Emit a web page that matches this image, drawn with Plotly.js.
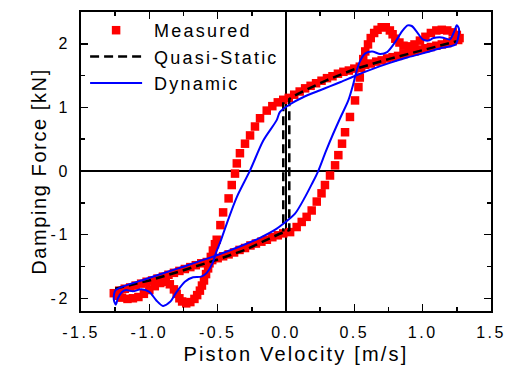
<!DOCTYPE html>
<html>
<head>
<meta charset="utf-8">
<script src="https://cdn.plot.ly/plotly-3.0.1.min.js"></script>
<style>
  html, body { margin: 0; padding: 0; background: #fff; }
  #chart { width: 525px; height: 367px; }
  .xtick text, .ytick text { letter-spacing: 2.5px; }
  text.legendtext { letter-spacing: 2.2px; transform: translate(7px, 0px); }
  text.xtitle { letter-spacing: 2.2px; }
  text.ytitle { letter-spacing: 1.6px; }
  g.g-ytitle { transform: translate(4px, 10px); }
  g.g-xtitle { transform: translate(10px, 0px); }
</style>
</head>
<body>
<div id="chart"></div>
<script>
// ---------------- data ----------------
// Measured (red squares), in loop order
const measV = [
  1.26, 1.22, 1.18, 1.14, 1.10, 1.06, 1.02, 0.98, 0.94, 0.90, 0.86, 0.82, 0.78, 0.74, 0.70, 0.66,
  0.62, 0.58, 0.54, 0.50, 0.46, 0.42, 0.38, 0.34, 0.30, 0.26, 0.22, 0.18, 0.14, 0.10, 0.06, 0.02,
  -0.02, -0.06, -0.10,
  -0.141, -0.19, -0.227, -0.263, -0.30, -0.337, -0.36, -0.373, -0.397, -0.42, -0.46, -0.48, -0.507,
  -0.52, -0.535, -0.55, -0.56, -0.57, -0.585, -0.60, -0.615, -0.63, -0.65, -0.67, -0.70, -0.73,
  -0.76, -0.78, -0.80, -0.82, -0.85, -0.88, -0.92, -0.96, -1.00, -1.04, -1.08, -1.12, -1.16, -1.20,
  -1.23, -1.26,
  -1.22, -1.18, -1.14, -1.10, -1.06, -1.02, -0.98, -0.94, -0.90, -0.86, -0.82, -0.78, -0.74, -0.70,
  -0.66, -0.62, -0.58, -0.54, -0.50, -0.46, -0.42, -0.38, -0.34, -0.30, -0.26, -0.22, -0.18, -0.14,
  -0.10, -0.06, -0.02,
  0.03, 0.078, 0.115, 0.151, 0.188, 0.225, 0.26, 0.285, 0.322, 0.359, 0.383, 0.41, 0.432, 0.468,
  0.505, 0.53,
  0.54, 0.55, 0.565, 0.58, 0.60, 0.62, 0.645, 0.67, 0.70, 0.73, 0.76, 0.78, 0.80, 0.83, 0.86, 0.90,
  0.94, 0.98, 1.02, 1.06, 1.10, 1.14, 1.18, 1.22, 1.25, 1.27
];
const measF = [
  2.06, 2.04, 2.01, 1.99, 1.97, 1.95, 1.93, 1.91, 1.88, 1.86, 1.84, 1.81, 1.79, 1.77, 1.74, 1.72,
  1.69, 1.67, 1.64, 1.61, 1.58, 1.56, 1.53, 1.49, 1.46, 1.42, 1.38, 1.34, 1.30, 1.25, 1.20, 1.15,
  1.12, 1.08, 1.02,
  0.95, 0.83, 0.70, 0.56, 0.43, 0.28, 0.12, -0.04, -0.22, -0.43, -0.65, -0.85, -1.08,
  -1.15, -1.25, -1.35, -1.45, -1.53, -1.62, -1.72, -1.80, -1.88, -1.95, -2.01, -2.06, -2.08,
  -2.05, -2.00, -1.93, -1.86, -1.78, -1.74, -1.76, -1.81, -1.87, -1.93, -1.98, -2.00, -2.01, -1.99,
  -1.96, -1.92,
  -1.88, -1.85, -1.83, -1.80, -1.77, -1.74, -1.72, -1.69, -1.66, -1.63, -1.60, -1.57, -1.54, -1.51,
  -1.48, -1.45, -1.43, -1.40, -1.37, -1.34, -1.31, -1.28, -1.24, -1.21, -1.17, -1.14, -1.11, -1.08,
  -1.04, -1.01, -0.98,
  -0.96, -0.88, -0.80, -0.72, -0.62, -0.48, -0.35, -0.22, -0.07, 0.09, 0.25, 0.43, 0.61, 0.85,
  1.11, 1.32,
  1.47, 1.62, 1.76, 1.88, 1.99, 2.09, 2.17, 2.22, 2.26, 2.26, 2.21, 2.15, 2.08, 2.02, 1.97, 1.96,
  1.99, 2.05, 2.11, 2.17, 2.21, 2.22, 2.21, 2.18, 2.14, 2.09
];

// Quasi-Static (black dashed)
const qsV = [-1.25, -1.0, -0.75, -0.5, -0.3, -0.15, -0.05, 0.024, 0.024, 0.05, 0.15, 0.3, 0.5, 0.75, 1.0, 1.25, null, -0.02, -0.02];
const qsF = [-1.85, -1.72, -1.56, -1.39, -1.24, -1.09, -0.99, -0.93, 1.13, 1.17, 1.28, 1.43, 1.60, 1.76, 1.90, 2.04, null, 1.08, -0.95];

// Dynamic (blue line), in loop order
const dynV = [
  1.24, 1.13, 1.00, 0.88, 0.76, 0.64, 0.52, 0.40, 0.32, 0.25, 0.125, 0.03, -0.044, -0.068,
  -0.166, -0.263, -0.36, -0.434, -0.48, -0.51, -0.54, -0.58, -0.62, -0.68, -0.74, -0.80,
  -0.85, -0.90, -0.95, -1.00, -1.06, -1.12, -1.17, -1.20, -1.23, -1.245, -1.26, -1.25, -1.20,
  -1.03, -0.79, -0.54, -0.32, -0.19, -0.07, -0.02, 0.066, 0.139, 0.19, 0.236, 0.29, 0.346, 0.40,
  0.456, 0.49, 0.51, 0.54, 0.58, 0.63, 0.69, 0.74, 0.80, 0.85, 0.89, 0.92, 0.96, 1.00, 1.04, 1.08, 1.14,
  1.20, 1.23, 1.25, 1.265, 1.26, 1.24
];
const dynF = [
  1.99, 1.93, 1.85, 1.78, 1.70, 1.61, 1.51, 1.40, 1.33, 1.27, 1.16, 1.05, 0.93, 0.80,
  0.48, 0.01, -0.41, -0.83, -1.11, -1.27, -1.46, -1.60, -1.66, -1.67, -1.74, -1.90,
  -2.06, -2.12, -2.03, -1.90, -1.86, -1.89, -1.87, -1.90, -2.00, -2.10, -2.02, -1.88, -1.82,
  -1.70, -1.53, -1.35, -1.17, -1.05, -0.91, -0.83, -0.67, -0.41, -0.20, 0.00, 0.30, 0.59, 0.85,
  1.11, 1.35, 1.52, 1.72, 1.85, 1.88, 1.84, 1.87, 2.03, 2.20, 2.29, 2.28, 2.18, 2.07, 2.05, 2.09, 2.10,
  2.07, 2.19, 2.29, 2.24, 2.10, 1.99
];

// Axis ticks
const xTickVals = [-1.5, -1.0, -0.5, 0.0, 0.5, 1.0, 1.5];
const xTickText = ['-1.5', '-1.0', '-0.5', '0.0', '0.5', '1.0', '1.5'];
const xMinorVals = [-1.25, -0.75, -0.25, 0.25, 0.75, 1.25];
const yTickVals = [-2, -1, 0, 1, 2];
const yTickText = ['-2', '-1', '0', '1', '2'];
const yMinorVals = [-1.5, -0.5, 0.5, 1.5];

// ---------------- chart ----------------
const traces = [
  {
    type: 'scatter', mode: 'markers', name: 'Measured',
    x: measV, y: measF,
    marker: { symbol: 'square', size: 8.5, color: '#ff0000', line: { width: 0 } }
  },
  {
    type: 'scatter', mode: 'lines', name: 'Quasi-Static',
    x: qsV, y: qsF, connectgaps: false,
    line: { color: '#000000', width: 2.5, dash: '9px,5px' }
  },
  {
    type: 'scatter', mode: 'lines', name: 'Dynamic',
    x: dynV, y: dynF,
    line: { color: '#0000ff', width: 2, shape: 'spline', smoothing: 0.8 }
  }
];

const axisCommon = {
  ticks: 'inside', ticklen: 7, tickwidth: 1.5, tickcolor: '#000',
  showline: true, linewidth: 2, linecolor: '#000', mirror: 'ticks',
  showgrid: false, zeroline: true, zerolinecolor: '#000', zerolinewidth: 2,
  tickfont: { size: 16, color: '#000' }
};

const layout = {
  width: 525, height: 367,
  margin: { l: 81, r: 34, t: 12, b: 56, pad: 0 },
  paper_bgcolor: '#ffffff', plot_bgcolor: '#ffffff',
  font: { family: '"Liberation Sans", Arial, sans-serif', color: '#000' },
  showlegend: true,
  legend: {
    x: 0.01, y: 1.0, xanchor: 'left', yanchor: 'top',
    bgcolor: 'rgba(0,0,0,0)', borderwidth: 0,
    font: { size: 18, color: '#000' },
    itemwidth: 52, tracegroupgap: 0
  },
  xaxis: Object.assign({}, axisCommon, {
    range: [-1.5, 1.5], tickmode: 'array', tickvals: xTickVals, ticktext: xTickText,
    minor: { tickmode: 'array', tickvals: xMinorVals, ticks: 'inside', ticklen: 4, tickwidth: 1.5, tickcolor: '#000', showgrid: false },
    ticklabelstandoff: 6,
    title: { text: 'Piston Velocity [m/s]', font: { size: 20, color: '#000' }, standoff: 7 }
  }),
  yaxis: Object.assign({}, axisCommon, {
    range: [-2.2, 2.5], tickmode: 'array', tickvals: yTickVals, ticktext: yTickText,
    minor: { tickmode: 'array', tickvals: yMinorVals, ticks: 'inside', ticklen: 4, tickwidth: 1.5, tickcolor: '#000', showgrid: false },
    ticklabelstandoff: 6,
    title: { text: 'Damping Force [kN]', font: { size: 20, color: '#000' }, standoff: 3 }
  })
};

Plotly.newPlot('chart', traces, layout, { staticPlot: true, displayModeBar: false });
</script>
</body>
</html>
